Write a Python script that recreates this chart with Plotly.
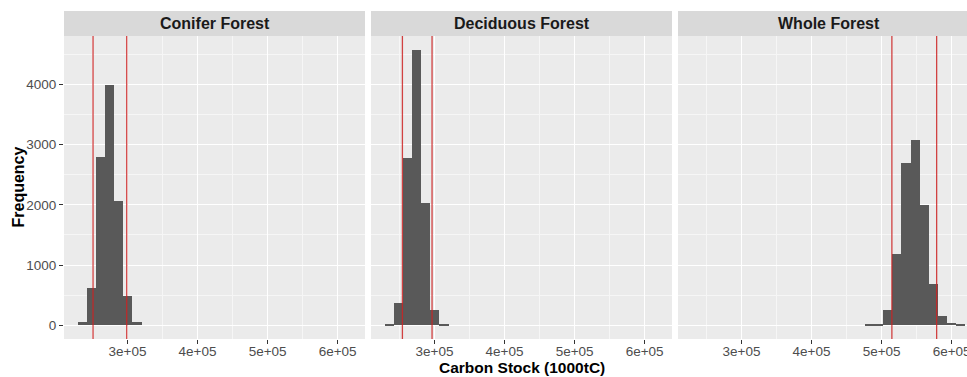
import plotly.graph_objects as go

# Histogram bins shared by all three facets (30 bins over the pooled range)
bin_start = 229000
bin_width = 13017
n_bins = 30

panels = ["Conifer Forest", "Deciduous Forest", "Whole Forest"]

# Frequencies per bin, listed from the first non-empty bin of each facet
first_bin = {"Conifer Forest": 0, "Deciduous Forest": 0, "Whole Forest": 19}
counts = {
    "Conifer Forest": [50, 622, 2800, 4000, 2067, 483, 50],
    "Deciduous Forest": [15, 367, 2777, 4577, 2027, 260, 15],
    "Whole Forest": [8, 17, 250, 1183, 2700, 3072, 1993, 693, 160, 35, 8],
}

# Lower / upper interval bounds drawn as red vertical lines
ci_low = {"Conifer Forest": 250900, "Deciduous Forest": 254300, "Whole Forest": 514700}
ci_high = {"Conifer Forest": 299000, "Deciduous Forest": 296600, "Whole Forest": 578600}

x_tick_vals = [300000, 400000, 500000, 600000]
x_tick_text = ["3e+05", "4e+05", "5e+05", "6e+05"]
y_tick_vals = [0, 1000, 2000, 3000, 4000]
y_tick_text = ["0", "1000", "2000", "3000", "4000"]

W, H = 967, 377
ML, MT, MB = 64, 36, 38
plot_w = W - ML
plot_h = H - MT - MB
panel_px = 301
gap_px = 6

FONT = "Liberation Sans, Arial"

x_lo = bin_start - 0.05 * n_bins * bin_width
x_hi = bin_start + n_bins * bin_width + 0.05 * n_bins * bin_width
ymax = max(max(v) for v in counts.values())
y_range = [-0.05 * ymax, 1.05 * ymax]

fig = go.Figure()

for i, name in enumerate(panels):
    ax = "" if i == 0 else str(i + 1)
    c = counts[name]
    centers = [bin_start + bin_width * (first_bin[name] + k + 0.5) for k in range(len(c))]
    fig.add_trace(go.Bar(
        x=centers, y=c, width=[bin_width] * len(c),
        marker=dict(color="#595959", line=dict(width=0)),
        xaxis="x" + ax, yaxis="y" + ax, showlegend=False, hoverinfo="x+y",
    ))
    for v in (ci_low[name], ci_high[name]):
        fig.add_trace(go.Scatter(
            x=[v, v], y=[y_range[0], y_range[1]], mode="lines",
            line=dict(color="rgba(205,35,35,0.85)", width=1.3),
            xaxis="x" + ax, yaxis="y" + ax, showlegend=False, hoverinfo="skip",
        ))

    left_px = i * (panel_px + gap_px)
    right_px = min(left_px + panel_px, plot_w)
    d0, d1 = left_px / plot_w, right_px / plot_w
    visible_hi = x_lo + (x_hi - x_lo) * (right_px - left_px) / panel_px

    xa = dict(
        domain=[d0, d1], range=[x_lo, visible_hi], anchor="y" + ax,
        tickvals=x_tick_vals, ticktext=x_tick_text,
        showgrid=True, gridcolor="#FFFFFF", gridwidth=1.1,
        minor=dict(dtick=50000, tick0=0, showgrid=True, gridcolor="#F6F6F6", gridwidth=0.6, ticks=""),
        ticks="outside", ticklen=4, tickcolor="#333333", tickwidth=1,
        ticklabelstandoff=-4,
        tickfont=dict(family=FONT, size=13.5, color="#4D4D4D"),
        ticklabeloverflow="allow", automargin=False,
        zeroline=False, showline=False, fixedrange=True,
    )
    ya = dict(
        domain=[0, 1], range=y_range, anchor="x" + ax,
        tickvals=y_tick_vals, ticktext=y_tick_text,
        showgrid=True, gridcolor="#FFFFFF", gridwidth=1.1,
        minor=dict(dtick=500, tick0=0, showgrid=True, gridcolor="#F6F6F6", gridwidth=0.6, ticks=""),
        ticks="outside" if i == 0 else "", ticklen=4, tickcolor="#333333", tickwidth=1,
        showticklabels=(i == 0), automargin=False,
        tickfont=dict(family=FONT, size=13.5, color="#4D4D4D"),
        zeroline=False, showline=False, fixedrange=True,
    )
    if i > 0:
        ya["matches"] = "y"
    fig.update_layout(**{"xaxis" + ax: xa, "yaxis" + ax: ya})

    # panel background
    fig.add_shape(type="rect", xref="paper", yref="paper", x0=d0, x1=d1, y0=0, y1=1,
                  fillcolor="#EBEBEB", line=dict(width=0), layer="below")
    # facet strip
    strip_h = 25 / plot_h
    fig.add_shape(type="rect", xref="paper", yref="paper", x0=d0, x1=d1, y0=1, y1=1 + strip_h,
                  fillcolor="#D9D9D9", line=dict(width=0), layer="below")
    full_d1 = (left_px + panel_px) / plot_w
    fig.add_annotation(
        xref="paper", yref="paper", x=(d0 + full_d1) / 2, y=1 + strip_h / 2,
        text="<b>" + name + "</b>", showarrow=False, xanchor="center", yanchor="middle",
        font=dict(family=FONT, size=16, color="#1A1A1A"),
    )

fig.add_annotation(
    xref="paper", yref="paper", x=(3 * panel_px + 2 * gap_px) / 2 / plot_w, y=-28.5 / plot_h,
    text="<b>Carbon Stock (1000tC)</b>", showarrow=False, xanchor="center", yanchor="middle",
    font=dict(family=FONT, size=15.5, color="#000000"),
)
fig.add_annotation(
    xref="paper", yref="paper", x=-46 / plot_w, y=0.5, textangle=-90,
    text="<b>Frequency</b>", showarrow=False, xanchor="center", yanchor="middle",
    font=dict(family=FONT, size=16, color="#000000"),
)

fig.update_layout(
    width=W, height=H,
    margin=dict(l=ML, r=0, t=MT, b=MB, autoexpand=False),
    paper_bgcolor="#FFFFFF", plot_bgcolor="rgba(0,0,0,0)",
    bargap=0, barmode="overlay",
)

fig.write_html("out.html")
